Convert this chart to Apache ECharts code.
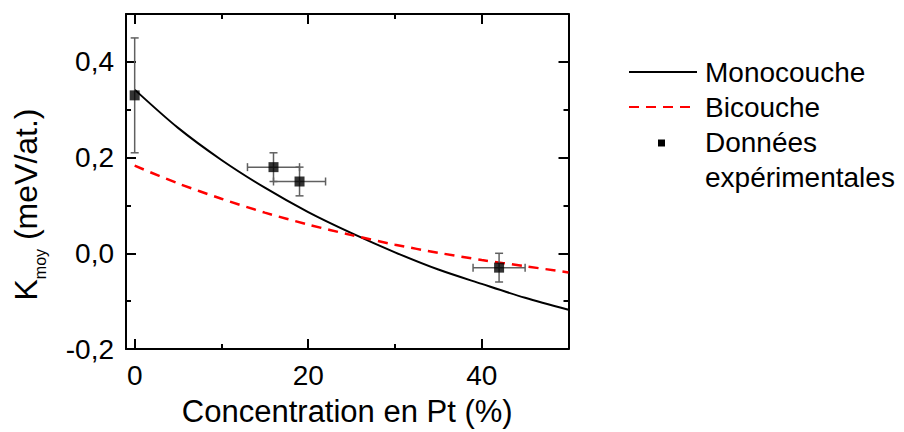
<!DOCTYPE html>
<html>
<head>
<meta charset="utf-8">
<script src="https://cdn.jsdelivr.net/npm/echarts@6/dist/echarts.min.js"></script>
<style>html,body{margin:0;padding:0;background:#fff;}#c{width:904px;height:432px;}</style>
</head>
<body>
<div id="c"></div>
<script>
// ---- data ----
var curveX = [0, 5, 10, 15, 20, 25, 30, 35, 40, 45, 50];
var monoY  = [0.342, 0.262, 0.195, 0.137, 0.086, 0.042, 0.002, -0.034, -0.064, -0.093, -0.118];
var biY    = [0.183, 0.146, 0.114, 0.085, 0.060, 0.038, 0.018, 0.001, -0.014, -0.027, -0.040];
var expX    = [0, 16, 19, 42];
var expY    = [0.33, 0.18, 0.15, -0.03];
var expXErr = [0, 3, 3, 3];
var expYErr = [0.12, 0.03, 0.03, 0.03];
var xMajorTicks = [0, 20, 40];
var xMinorTicks = [10, 30, 50];
var yMajorTicks = [-0.2, 0, 0.2, 0.4];
var yMinorTicks = [-0.1, 0.1, 0.3];
var seriesNames = ['Monocouche', 'Bicouche', 'Données\nexpérimentales'];
var xTitle = 'Concentration en Pt (%)';

var FONT = 'Liberation Sans, Arial, sans-serif';
var chart = echarts.init(document.getElementById('c'), null, {renderer: 'svg'});

function xAxisDef(pos, ticks, len, showLine, showLabel) {
  return {
    type: 'value', position: pos, min: -1, max: 50,
    axisLine: {show: showLine, onZero: false, lineStyle: {color: '#000', width: 2}},
    axisTick: {show: true, inside: true, length: len, customValues: ticks, lineStyle: {color: '#000', width: 2}},
    axisLabel: {show: showLabel, customValues: ticks, fontSize: 28, fontFamily: FONT, color: '#000', margin: 12},
    splitLine: {show: false}
  };
}
function yAxisDef(pos, ticks, len, showLine, showLabel) {
  return {
    type: 'value', position: pos, min: -0.2, max: 0.5,
    axisLine: {show: showLine, onZero: false, lineStyle: {color: '#000', width: 2}},
    axisTick: {show: true, inside: true, length: len, customValues: ticks, lineStyle: {color: '#000', width: 2}},
    axisLabel: {show: showLabel, customValues: ticks, fontSize: 28, fontFamily: FONT, color: '#000', margin: 12,
      formatter: function (v) { return (Math.round(v * 10) / 10).toFixed(1).replace('.', ','); }},
    splitLine: {show: false}
  };
}

var xa = [
  xAxisDef('bottom', xMajorTicks, 10, true, true),
  xAxisDef('bottom', xMinorTicks, 5, false, false),
  xAxisDef('top', xMajorTicks, 10, true, false),
  xAxisDef('top', xMinorTicks, 5, false, false)
];
xa[0].name = xTitle;
xa[0].nameLocation = 'middle';
xa[0].nameGap = 47;
xa[0].nameTextStyle = {fontSize: 31, fontFamily: FONT, color: '#000'};

var ya = [
  yAxisDef('left', yMajorTicks, 10, true, true),
  yAxisDef('left', yMinorTicks, 5, false, false),
  yAxisDef('right', yMajorTicks, 10, true, false),
  yAxisDef('right', yMinorTicks, 5, false, false)
];
ya[0].name = '{k|K}{s|moy}{k| (meV/at.)}';
ya[0].nameLocation = 'middle';
ya[0].nameRotate = 90;
ya[0].nameGap = 80;
ya[0].nameTextStyle = {
  fontFamily: FONT, color: '#000', padding: [0, 46, 0, 0],
  rich: {
    k: {fontSize: 32, fontFamily: FONT, color: '#000', lineHeight: 40},
    s: {fontSize: 16, fontFamily: FONT, color: '#000', lineHeight: 14, padding: [28, 0, 0, 0]}
  }
};

function pairs(xs, ys) { return xs.map(function (x, i) { return [x, ys[i]]; }); }

var errData = expX.map(function (x, i) { return [x, expY[i], expXErr[i], expYErr[i]]; });

var option = {
  backgroundColor: '#fff',
  animation: false,
  grid: {left: 126, right: 335.5, top: 14, bottom: 75},
  xAxis: xa,
  yAxis: ya,
  series: [
    {name: seriesNames[0], type: 'line', data: pairs(curveX, monoY), smooth: 0.3, showSymbol: false,
     lineStyle: {color: '#000', width: 2}, z: 3},
    {name: seriesNames[1], type: 'line', data: pairs(curveX, biY), smooth: 0.3, showSymbol: false,
     lineStyle: {color: '#ff0000', width: 2.5, type: [10, 7]}, z: 3},
    {type: 'custom', data: errData, z: 4,
     renderItem: function (params, api) {
       var x = api.value(0), y = api.value(1), ex = api.value(2), ey = api.value(3);
       var c = api.coord([x, y]);
       var children = [];
       var st = {stroke: '#606060', lineWidth: 1.5};
       var cap = 4;
       if (ey > 0) {
         var t = api.coord([x, y + ey]), b = api.coord([x, y - ey]);
         children.push({type: 'line', shape: {x1: c[0], y1: t[1], x2: c[0], y2: b[1]}, style: st});
         children.push({type: 'line', shape: {x1: c[0] - cap, y1: t[1], x2: c[0] + cap, y2: t[1]}, style: st});
         children.push({type: 'line', shape: {x1: c[0] - cap, y1: b[1], x2: c[0] + cap, y2: b[1]}, style: st});
       }
       if (ex > 0) {
         var l = api.coord([x - ex, y]), r = api.coord([x + ex, y]);
         children.push({type: 'line', shape: {x1: l[0], y1: c[1], x2: r[0], y2: c[1]}, style: st});
         children.push({type: 'line', shape: {x1: l[0], y1: c[1] - cap, x2: l[0], y2: c[1] + cap}, style: st});
         children.push({type: 'line', shape: {x1: r[0], y1: c[1] - cap, x2: r[0], y2: c[1] + cap}, style: st});
       }
       return {type: 'group', children: children};
     }},
    {name: seriesNames[2], type: 'scatter', data: pairs(expX, expY), symbol: 'rect', symbolSize: 10,
     itemStyle: {color: '#000'}, z: 5}
  ],
  graphic: [
    {type: 'line', shape: {x1: 629, y1: 72, x2: 697, y2: 72}, style: {stroke: '#000', lineWidth: 2}},
    {type: 'text', x: 705, y: 72, style: {text: seriesNames[0], fontSize: 28, fontFamily: FONT, fill: '#000', verticalAlign: 'middle'}},
    {type: 'line', shape: {x1: 629, y1: 107, x2: 697, y2: 107}, style: {stroke: '#ff0000', lineWidth: 2, lineDash: [10, 7]}},
    {type: 'text', x: 705, y: 107, style: {text: seriesNames[1], fontSize: 28, fontFamily: FONT, fill: '#000', verticalAlign: 'middle'}},
    {type: 'rect', shape: {x: 658, y: 139.5, width: 7, height: 7}, style: {fill: '#000'}},
    {type: 'text', x: 705, y: 125, style: {text: seriesNames[2], fontSize: 28, fontFamily: FONT, fill: '#000', verticalAlign: 'top', lineHeight: 35}}
  ]
};
chart.setOption(option);
</script>
</body>
</html>
